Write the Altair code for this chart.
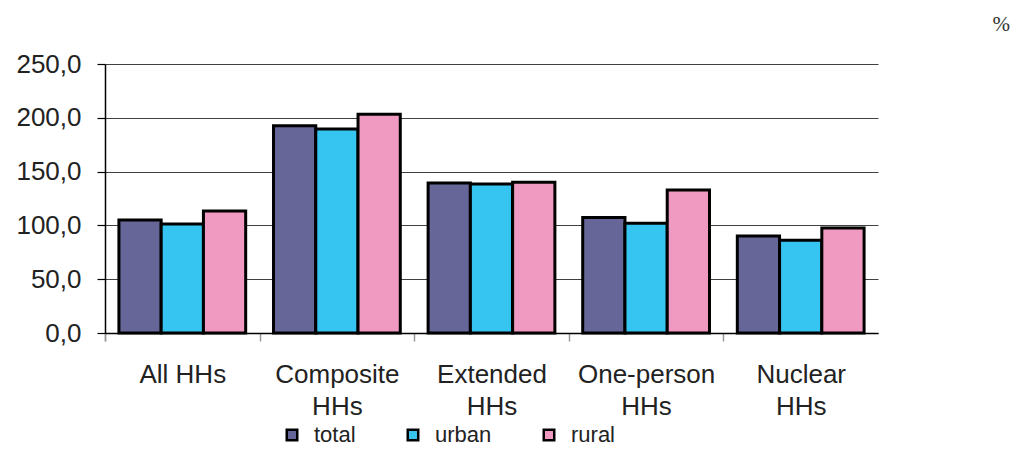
import altair as alt
import pandas as pd

categories = ["All\u00a0HHs", "Composite\nHHs", "Extended\nHHs", "One-person\nHHs", "Nuclear\nHHs"]
series = ["total", "urban", "rural"]
total = [105.0, 192.5, 139.3, 107.4, 90.1]
urban = [101.2, 189.6, 138.5, 101.9, 86.2]
rural = [113.4, 203.3, 140.1, 133.0, 97.6]
colors = ["#666699", "#36C5F0", "#F19AC1"]
y_ticks = [0, 50, 100, 150, 200, 250]

rows = []
for i, c in enumerate(categories):
    for s, vals in zip(series, [total, urban, rural]):
        rows.append({"category": c, "series": s, "value": vals[i]})
df = pd.DataFrame(rows)

W, H = 773, 269
P_IN, P_OUT = 0.18, 0.09
step = W / (len(categories) - P_IN + 2 * P_OUT)
half_gap = P_IN * step / 2

bars = alt.Chart(df).mark_bar(stroke="black", strokeWidth=3).encode(
    x=alt.X("category:N", sort=categories, title=None,
            scale=alt.Scale(paddingInner=P_IN, paddingOuter=P_OUT),
            axis=alt.Axis(labelExpr="split(datum.label, '\\n')", labelAngle=0,
                          labelFont="Liberation Sans", labelFontSize=26,
                          labelColor="#222222", labelLineHeight=32,
                          labelPadding=20, ticks=True, bandPosition=0,
                          tickExtra=True, tickOffset=-half_gap,
                          labelOffset=half_gap,
                          tickColor="#999999", tickSize=8, tickWidth=1.5,
                          domainColor="black", domainWidth=1.5,
                          labelBaseline="top")),
    xOffset=alt.XOffset("series:N", sort=series,
                        scale=alt.Scale(paddingInner=0, paddingOuter=0)),
    y=alt.Y("value:Q", title=None,
            scale=alt.Scale(domain=[0, 250], nice=False),
            axis=alt.Axis(values=y_ticks,
                          labelExpr="replace(format(datum.value, '.1f'), '.', ',')",
                          labelFont="Liberation Sans", labelFontSize=26,
                          labelColor="#222222", labelPadding=16,
                          tickColor="black", tickSize=8, tickWidth=1.2,
                          domainColor="black", domainWidth=1.5,
                          grid=True, gridColor="#404040", gridWidth=1.2)),
    color=alt.Color("series:N", sort=series,
                    scale=alt.Scale(domain=series, range=colors),
                    legend=alt.Legend(title=None, orient="none", direction="horizontal",
                                      legendX=176, legendY=360,
                                      symbolType="square", symbolSize=110,
                                      symbolStrokeColor="black", symbolStrokeWidth=2.5,
                                      labelFont="Liberation Sans", labelFontSize=22,
                                      labelColor="#222222", labelOffset=11,
                                      columnPadding=46)),
)

pct = alt.Chart(alt.Data(values=[{"t": "%"}])).mark_text(
    font="Liberation Serif", fontSize=21, color="#333333", align="right",
    baseline="middle").encode(
    x=alt.value(905), y=alt.value(-39), text="t:N")

chart = alt.layer(bars, pct).properties(
    width=W, height=H,
    autosize=alt.AutoSizeParams(type="none"),
    padding={"left": 97, "top": 56, "right": 133, "bottom": 113},
).configure_view(strokeWidth=0)

chart.save("out.html", embed_options={"renderer": "svg", "actions": False})
